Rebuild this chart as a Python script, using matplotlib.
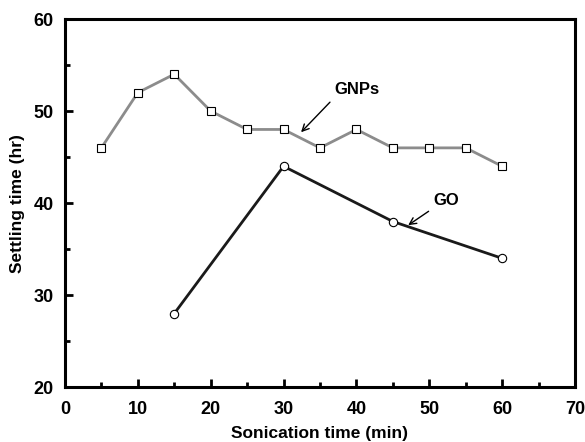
import matplotlib
matplotlib.use("Agg")
import matplotlib.pyplot as plt
from matplotlib.ticker import MultipleLocator

plt.rcParams['font.family'] = ['Liberation Sans', 'DejaVu Sans']
plt.rcParams['font.weight'] = 'bold'

gnp_x = [5, 10, 15, 20, 25, 30, 35, 40, 45, 50, 55, 60]
gnp_y = [46, 52, 54, 50, 48, 48, 46, 48, 46, 46, 46, 44]
go_x = [15, 30, 45, 60]
go_y = [28, 44, 38, 34]

fig = plt.figure(figsize=(5.85, 4.42), dpi=100)
ax = fig.add_axes([0.111, 0.124, 0.872, 0.833])

ax.plot(gnp_x, gnp_y, color='#8c8c8c', lw=2, marker='s', ms=5.5,
        mfc='white', mec='black', mew=0.8, zorder=3)
ax.plot(go_x, go_y, color='#1a1a1a', lw=2, marker='o', ms=6,
        mfc='white', mec='black', mew=0.8, zorder=3)

ax.annotate('GNPs', xy=(32.4, 47.7), xytext=(37.0, 52.3), fontsize=12, fontweight='bold',
            ha='left', va='center',
            arrowprops=dict(arrowstyle='->', color='black', lw=1, shrinkA=2, shrinkB=0,
                            relpos=(0.0, 0.0)))
ax.annotate('GO', xy=(47.1, 37.6), xytext=(50.6, 40.3), fontsize=12, fontweight='bold',
            ha='left', va='center',
            arrowprops=dict(arrowstyle='->', color='black', lw=1, shrinkA=2, shrinkB=0,
                            relpos=(0.0, 0.0)))

ax.set_xlim(0, 70)
ax.set_ylim(20, 60)
ax.xaxis.set_major_locator(MultipleLocator(10))
ax.xaxis.set_minor_locator(MultipleLocator(5))
ax.yaxis.set_major_locator(MultipleLocator(10))
ax.yaxis.set_minor_locator(MultipleLocator(5))
ax.tick_params(which='major', direction='in', length=6, width=2, labelsize=13)
ax.tick_params(axis='x', which='major', pad=10)
ax.tick_params(axis='y', which='major', pad=8)
ax.tick_params(which='minor', direction='in', length=3.5, width=2)
for lab in ax.get_xticklabels() + ax.get_yticklabels():
    lab.set_fontweight('bold')
for s in ax.spines.values():
    s.set_linewidth(2.2)

ax.set_xlabel('Sonication time (min)', fontsize=12.5, fontweight='bold', labelpad=6)
ax.set_ylabel('Settling time (hr)', fontsize=12.5, fontweight='bold', labelpad=6)

fig.savefig('out.png', dpi=100)
